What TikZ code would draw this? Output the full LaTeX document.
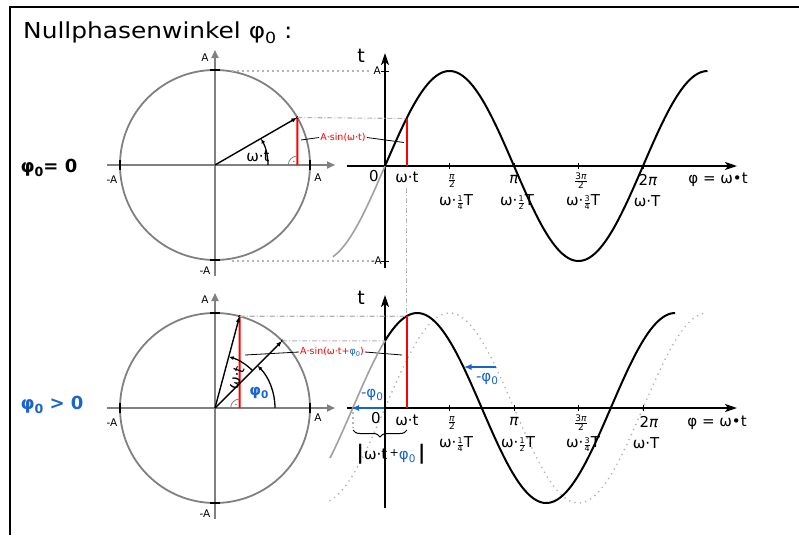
\documentclass[tikz,border=0pt]{standalone}
\usepackage{graphicx}
\usepackage{fontspec}
\setmainfont{DejaVu Sans}
\usetikzlibrary{arrows.meta,decorations.pathreplacing}
\definecolor{cgray}{RGB}{128,128,128}
\definecolor{mgray}{RGB}{160,160,160}
\definecolor{lgray}{RGB}{180,180,180}
\definecolor{cblue}{RGB}{25,100,205}
\definecolor{cred}{RGB}{255,0,0}
\newcommand{\lsub}[1]{\raisebox{-0.45ex}{\scalebox{0.7}{#1}}}
\newcommand{\pfr}[3]{$\scriptstyle\frac{\hbox{\fontsize{#3}{#3}\selectfont #1}}{\hbox{\fontsize{#3}{#3}\selectfont #2}}$}
\begin{document}
\begin{tikzpicture}[x=1pt,y=1pt,
  frame/.style={line width=1.2pt},
  circ/.style={draw=cgray,line width=1.8pt},
  gax/.style={draw=cgray,line width=1.8pt,-{Triangle[length=8pt,width=7pt]}},
  bax/.style={line width=2pt,-{Stealth[length=12pt,width=8pt,inset=3pt]}},
  tickm/.style={line width=2.5pt},
  vecs/.style={line width=1.4pt,-{Latex[length=6pt,width=4.5pt]}},
  angarr/.style={line width=1.3pt,-{Latex[length=5pt,width=4pt]}},
  redl/.style={cred,line width=2pt},
  curve/.style={line width=2pt},
  gcurve/.style={mgray,line width=1.6pt},
  dotc/.style={lgray,line width=1.9pt,dash pattern=on 0pt off 5.5pt,line cap=round},
  gdot/.style={lgray,line width=1.1pt,dash pattern=on 1.5pt off 3.5pt},
  dashdot/.style={lgray,line width=1.1pt,dash pattern=on 5pt off 2pt on 1pt off 2pt},
  lead/.style={line width=0.8pt},
  smallab/.style={font=\fontsize{10.5}{12}\selectfont,inner sep=0pt},
  lab/.style={font=\fontsize{15}{17}\selectfont,inner sep=0pt},
  redlab/.style={font=\fontsize{9.5}{11}\selectfont,inner sep=1pt,text=cred},
  axlab/.style={font=\fontsize{19}{21}\selectfont,inner sep=0pt},
  bluearr/.style={cblue,line width=2.3pt,-{Latex[length=8pt,width=6pt]}},
  bluelab/.style={font=\fontsize{15}{17}\selectfont,inner sep=0pt,text=cblue},
  ticks/.style={line width=0.7pt}
]
\useasboundingbox (0,0) rectangle (799,-535);
\draw[frame] (10,-535) -- (10,-7) -- (799,-7);
\node[anchor=base west,inner sep=0pt,font=\fontsize{22}{26}\selectfont] (title) at (23,-38)
  {\scalebox{1.13}[1]{Nullphasenwinkel φ\lsub{0} :}};
\node[font=\bfseries\fontsize{18}{20}\selectfont,inner sep=0pt] (case1) at (49,-168) {φ\lsub{0}= 0};
\node[font=\bfseries\fontsize{18}{20}\selectfont,inner sep=0pt,text=cblue] (case2) at (52,-405) {φ\lsub{0} > 0};

% ---------- top circle ----------
\begin{scope}[shift={(215,-165)}]
  \draw[circ] (0,0) circle (95);
  \draw[gax] (-108,0) -- (120,0);
  \draw[gax] (0,-111) -- (0,115);
  \draw[tickm] (-5,95) -- (5,95);
  \draw[tickm] (-5,-95) -- (5,-95);
  \draw[tickm] (-95,-5) -- (-95,5);
  \draw[tickm] (95,-5) -- (95,5);
  \node[smallab] (c1A1) at (-10,107) {A};
  \node[smallab] (c1A2) at (-10,-106) {-A};
  \node[smallab] (c1A3) at (-103,-15) {-A};
  \node[smallab] (c1A4) at (103,-13) {A};
  \coordinate (p1) at (30:95);
  \coordinate (q1) at (82.27,0);
  \draw[redl] (p1) -- (q1);
  \draw[cgray,line width=0.8pt] (73.27,0) arc[start angle=180,end angle=90,radius=9];
  \fill[cgray] (78.8,3.5) circle (0.9);
  \draw[vecs] (0,0) -- (p1);
  \fill (p1) circle (1.4);
  \draw[angarr] (53,0) arc[start angle=0,end angle=30,radius=53];
  \node[lab] (wt1) at (43,9) {ω·t};
\end{scope}
\node[redlab] (rl1) at (343,-137.5) {A·sin(ω·t)};
\coordinate (l1a) at (301,-140);
\coordinate (l1b) at (404,-142.5);
\draw[lead] (l1a) -- (rl1.west);
\draw[lead] (rl1.east) -- (l1b);

% ---------- top graph ----------
\begin{scope}[shift={(385,-166)}]
  \draw[bax] (0,-102) -- (0,113);
  \draw[bax] (-38,0) -- (352,0);
  \foreach \k in {1,2,3,4} \draw[ticks] (\k*64.5,-3) -- (\k*64.5,3);
  \draw[ticks] (-4,95) -- (4,95);
  \draw[ticks] (-4,-95) -- (4,-95);
  \draw[gcurve] plot[domain=-1.27:0,samples=30,smooth] ({\x*41.06},{95*sin(\x r)});
  \draw[curve] plot[domain=0:7.854,samples=140,smooth] ({\x*41.06},{95*sin(\x r)});
  \coordinate (r1b) at (21.5,0);
  \coordinate (r1t) at (21.5,47.5);
  \draw[redl] (r1b) -- (r1t);
  \node[axlab] (t1) at (-24,110) {t};
  \node[smallab,anchor=east] (g1A) at (-4,95) {A};
  \node[smallab,anchor=east] (g1mA) at (-3,-95) {-A};
  \node[lab] (z1) at (-11,-10) {0};
  \node[lab] (wtg1) at (22,-11) {ω·t};
  \node[lab] (f1a) at (67,-15) {\pfr{\textit{π}}{2}{9}};
  \node[lab] (f1b) at (71,-36) {ω·\pfr{1}{4}{8}T};
  \node[lab] (f2a) at (129,-14) {\textit{π}};
  \node[lab] (f2b) at (132,-36) {ω·\pfr{1}{2}{8}T};
  \node[lab] (f3a) at (196,-15) {\pfr{3\textit{π}}{2}{9}};
  \node[lab] (f3b) at (198,-36) {ω·\pfr{3}{4}{8}T};
  \node[lab] (f4a) at (263,-14) {2\textit{π}};
  \node[lab] (f4b) at (262,-35) {ω·T};
  \node[lab] (phi1) at (333,-14) {φ = ω•t};
\end{scope}
\draw[gdot] (232,-71) -- (372,-71);
\draw[gdot] (232,-261) -- (370,-261);
\draw[dashdot] (p1) -- (r1t);
\coordinate (vd1) at (406.5,-188);
\coordinate (vd2) at (406.5,-316.2);
\draw[dashdot] (vd1) -- (vd2);

% ---------- bottom circle ----------
\begin{scope}[shift={(215,-408)}]
  \draw[circ] (0,0) circle (95);
  \draw[gax] (-108,0) -- (120,0);
  \draw[gax] (0,-111) -- (0,115);
  \draw[tickm] (-5,95) -- (5,95);
  \draw[tickm] (-5,-95) -- (5,-95);
  \draw[tickm] (-95,-5) -- (-95,5);
  \draw[tickm] (95,-5) -- (95,5);
  \node[smallab] (c2A1) at (-10,108) {A};
  \node[smallab] (c2A2) at (-10,-106) {-A};
  \node[smallab] (c2A3) at (-103,-15) {-A};
  \node[smallab] (c2A4) at (103,-10) {A};
  \coordinate (p2a) at (45:95);
  \coordinate (p2b) at (75:95);
  \coordinate (q2) at (24.59,0);
  \draw[redl] (p2b) -- (q2);
  \draw[cgray,line width=0.8pt] (15.59,0) arc[start angle=180,end angle=90,radius=9];
  \fill[cgray] (21,3.5) circle (0.9);
  \draw[vecs] (0,0) -- (p2a);
  \draw[vecs] (0,0) -- (p2b);
  \fill (p2a) circle (1.4);
  \fill (p2b) circle (1.4);
  \draw[angarr] (60,0) arc[start angle=0,end angle=45,radius=60];
  \draw[angarr] (45:53) arc[start angle=45,end angle=75,radius=53];
  \node[font=\bfseries\fontsize{15}{17}\selectfont,inner sep=0pt,text=cblue] (phic) at (44,15) {φ\lsub{0}};
  \node[lab,rotate=70] (wt2) at (21,30) {ω·t};
\end{scope}
\node[redlab] (rl2) at (332,-352) {A·sin(ω·t+{\color{cblue}φ\lsub{0}})};
\coordinate (l2a) at (245,-355);
\coordinate (l2b) at (402,-355);
\draw[lead] (l2a) -- (rl2.west);
\draw[lead] (rl2.east) -- (l2b);

% ---------- bottom graph ----------
\begin{scope}[shift={(385,-408)}]
  \draw[dotc] plot[domain=-1.34:7.854,samples=140,smooth] ({\x*41.06},{95*sin(\x r)});
  \draw[bax] (0,-100) -- (0,113);
  \draw[bax] (-38,0) -- (352,0);
  \foreach \k in {1,2,3,4} \draw[ticks] (\k*64.5,-3) -- (\k*64.5,3);
  \draw[gcurve] plot[domain=-1.34:0,samples=30,smooth] ({\x*41.06},{95*sin((\x+0.7854) r)});
  \draw[curve] plot[domain=0:7.0686,samples=140,smooth] ({\x*41.06},{95*sin((\x+0.7854) r)});
  \coordinate (r2b) at (21.5,0);
  \coordinate (r2t) at (21.5,91.8);
  \draw[redl] (r2b) -- (r2t);
  \coordinate (o2) at (-1,0);
  \coordinate (m2) at (-34,0);
  \draw[bluearr] (o2) -- (m2);
  \coordinate (ba1) at (111,41);
  \coordinate (ba2) at (78.5,41);
  \draw[bluearr] (ba1) -- (ba2);
  \node[bluelab] (bl1) at (-13,13) {-φ\lsub{0}};
  \node[bluelab] (bl2) at (102,29) {-φ\lsub{0}};
  \node[axlab] (t2) at (-24,110) {t};
  \node[lab] (z2) at (-9,-10) {0};
  \node[lab] (wtg2) at (22,-12) {ω·t};
  \node[lab] (h1a) at (67,-15) {\pfr{\textit{π}}{2}{9}};
  \node[lab] (h1b) at (71,-36) {ω·\pfr{1}{4}{8}T};
  \node[lab] (h2a) at (129,-14) {\textit{π}};
  \node[lab] (h2b) at (133,-36) {ω·\pfr{1}{2}{8}T};
  \node[lab] (h3a) at (196,-15) {\pfr{3\textit{π}}{2}{9}};
  \node[lab] (h3b) at (198,-36) {ω·\pfr{3}{4}{8}T};
  \node[lab] (h4a) at (264,-14) {2\textit{π}};
  \node[lab] (h4b) at (261,-35) {ω·T};
  \node[lab] (phi2) at (332,-15) {φ = ω•t};
  \coordinate (bra) at (-32,-22);
  \coordinate (brb) at (22,-22);
  \draw[line width=1pt,decorate,decoration={brace,amplitude=7pt,mirror}] (bra) -- (brb);
  \coordinate (gv1) at (-32,-4);
  \coordinate (gv2) at (-32,-20);
  \draw[gdot] (gv1) -- (gv2);
  \node[lab] (abs) at (6,-46) {{\fontsize{20}{20}\selectfont\textbf{|}}ω·t\,\raisebox{0.3ex}{\fontsize{11}{11}\selectfont+}{\color{cblue}φ\lsub{0}}\,{\fontsize{20}{20}\selectfont\textbf{|}}};
\end{scope}
\draw[dashdot] (p2b) -- (r2t);
\coordinate (yax2) at (385,-340.8);
\draw[dashdot] (p2a) -- (yax2);
\end{tikzpicture}
\end{document}
